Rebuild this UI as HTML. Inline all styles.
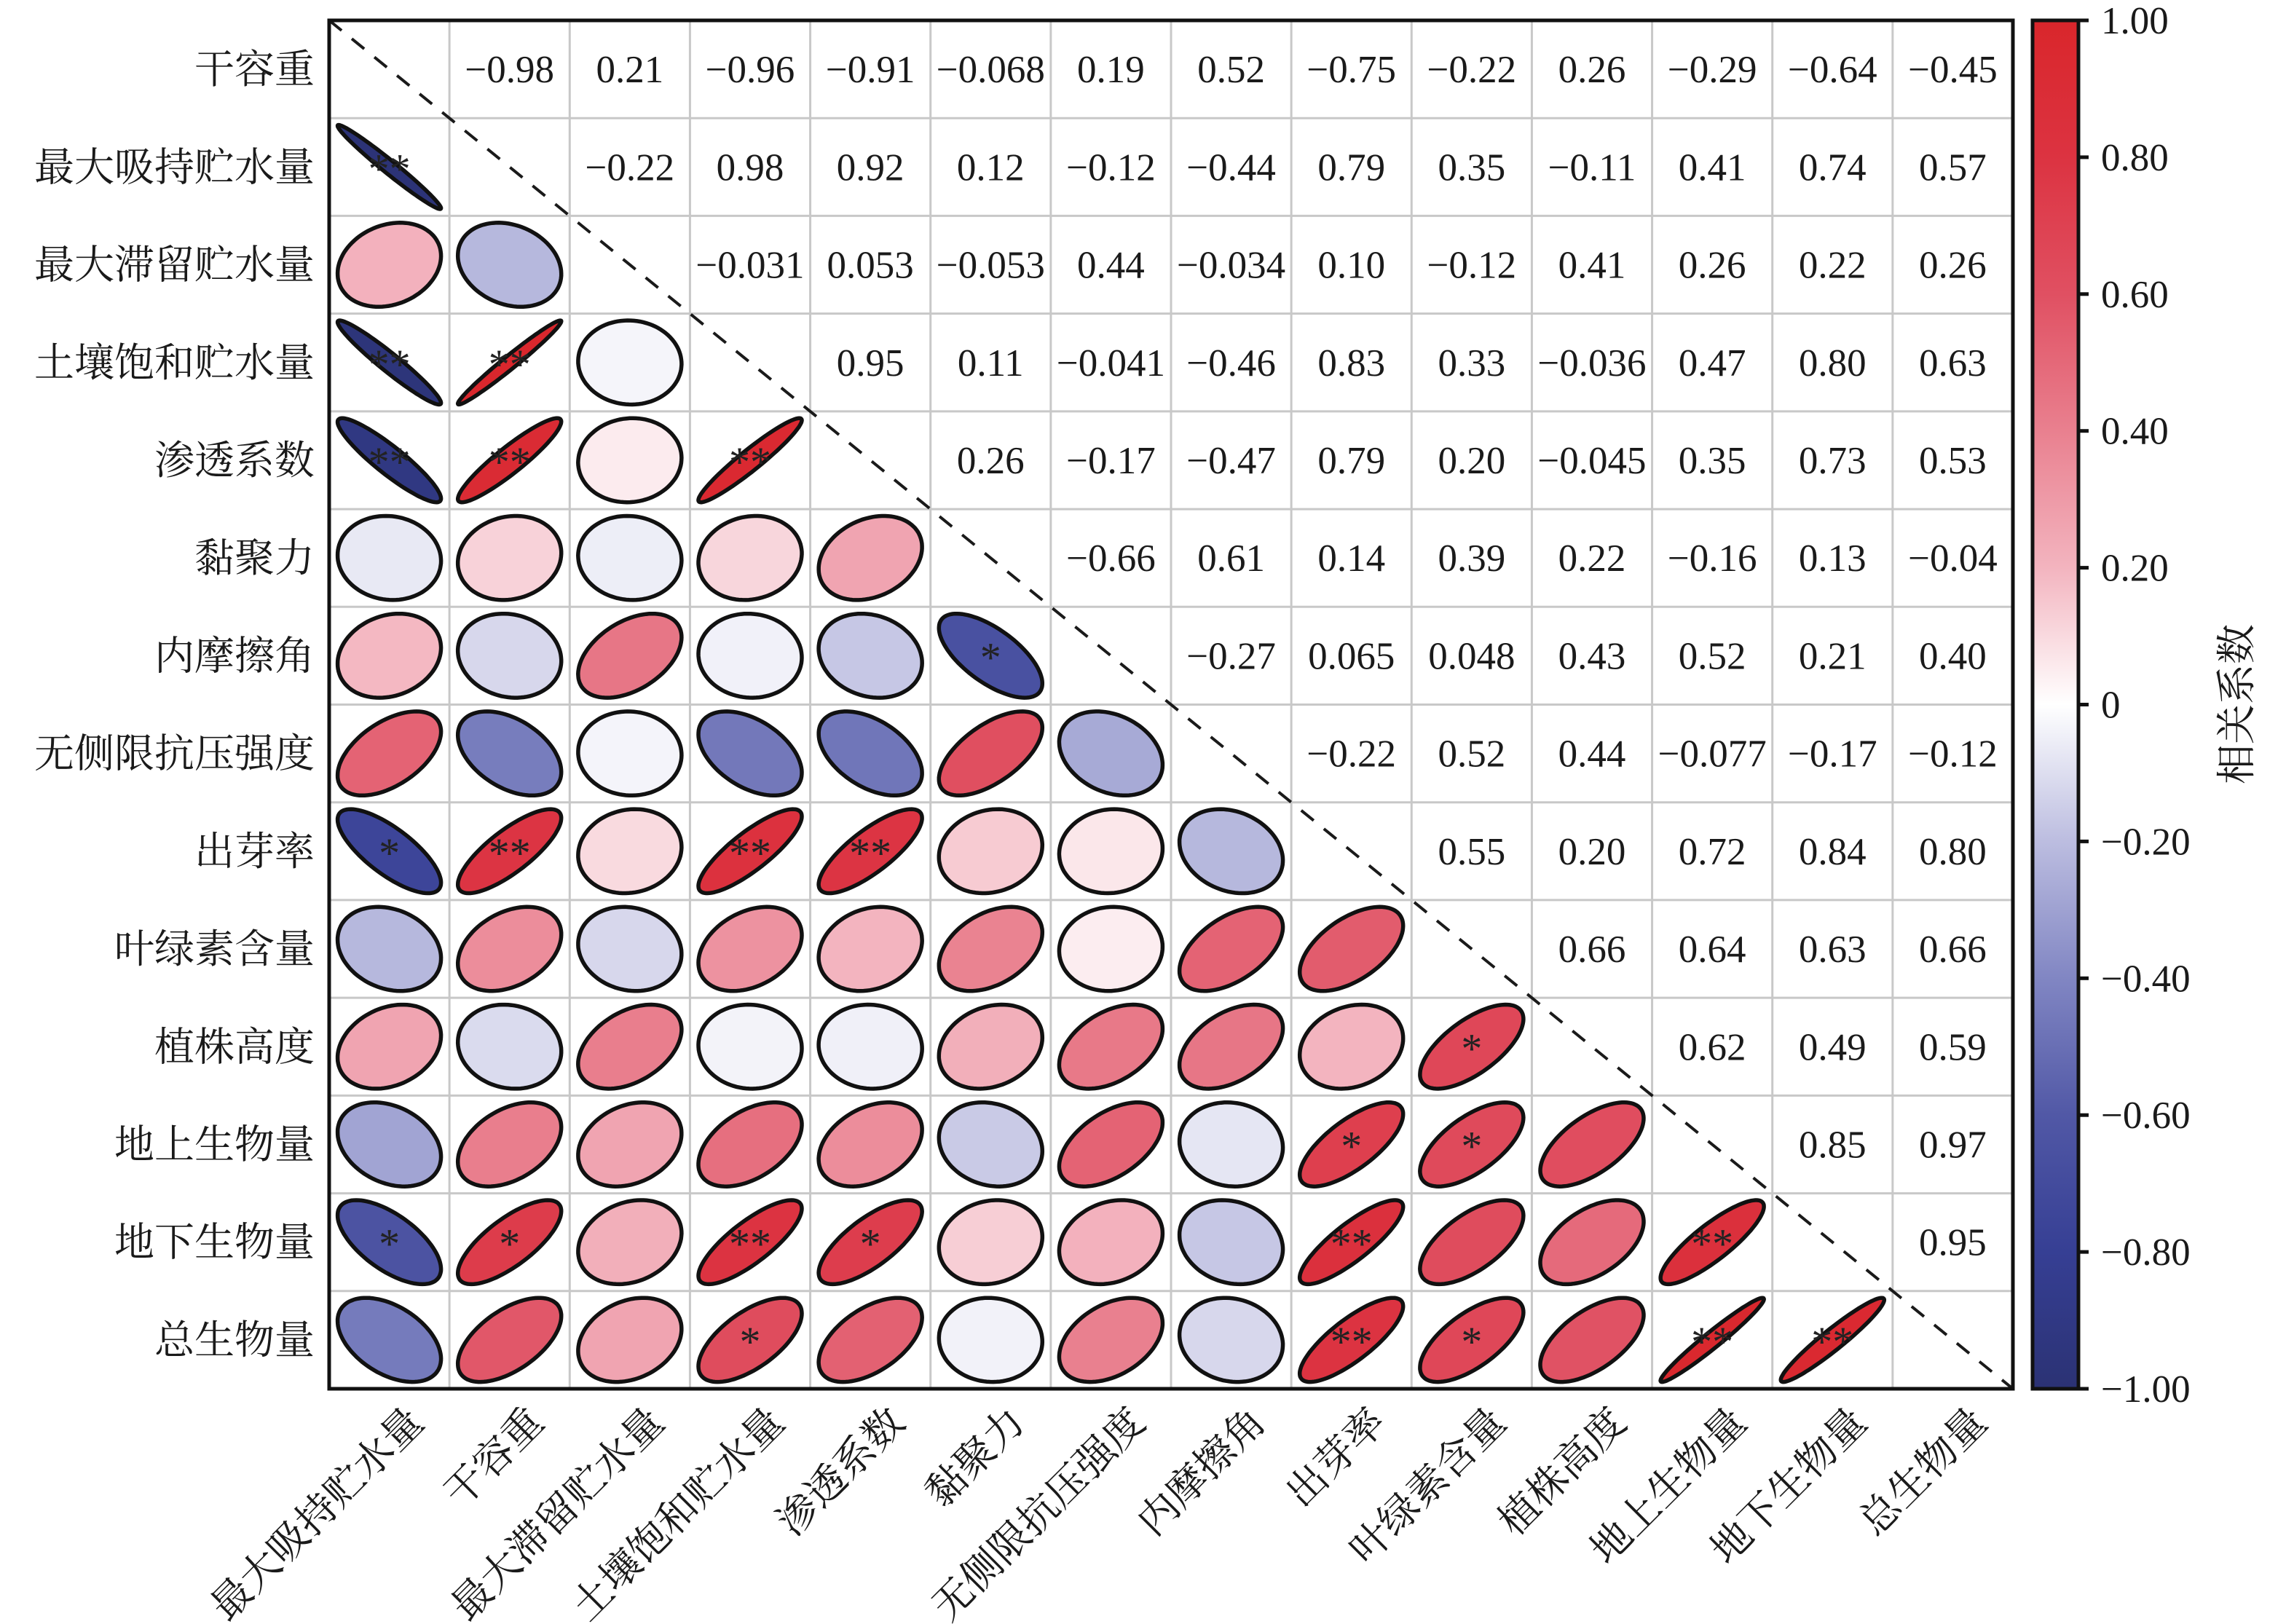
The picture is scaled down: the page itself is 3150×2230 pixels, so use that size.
<!DOCTYPE html>
<html><head><meta charset="utf-8">
<style>
html,body{margin:0;padding:0;background:#fff;}
svg{display:block;}
.num{font-family:"Liberation Serif","Noto Serif CJK SC",serif;font-size:53px;fill:#1a1a1a;}
.lab{font-family:"Liberation Serif","Noto Serif CJK SC",serif;font-size:55px;fill:#1a1a1a;}
.star{font-family:"Liberation Serif",serif;font-size:58px;fill:#222;}
</style></head>
<body>
<svg id="chart" width="3150" height="2230" viewBox="0 0 3150 2230" xmlns="http://www.w3.org/2000/svg">
<defs>
<linearGradient id="cbg" x1="0" y1="1" x2="0" y2="0">
<stop offset="0" stop-color="#2b3274"/><stop offset="0.1" stop-color="#363f94"/><stop offset="0.2" stop-color="#5158a6"/><stop offset="0.3" stop-color="#8186c3"/><stop offset="0.4" stop-color="#bcbde0"/><stop offset="0.5" stop-color="#ffffff"/><stop offset="0.6" stop-color="#f3b4bf"/><stop offset="0.7" stop-color="#e9808f"/><stop offset="0.8" stop-color="#e05062"/><stop offset="0.9" stop-color="#dc3341"/><stop offset="1" stop-color="#d9262b"/>
</linearGradient>
</defs>
<g id="grid"></g>
<g id="cells"></g>
<line x1="452" y1="28" x2="2764" y2="1907" stroke="#1a1a1a" stroke-width="4" stroke-dasharray="22,18"/>
<rect x="452" y="28" width="2312" height="1879" fill="none" stroke="#111" stroke-width="5"/>
<g id="ylabels"></g>
<g id="xlabels"></g>
<rect x="2791" y="28" width="63" height="1879" fill="url(#cbg)" stroke="#111" stroke-width="5"/>
<g id="cbticks"></g>
<text class="lab" x="0" y="0" text-anchor="middle" transform="translate(3090,967) rotate(-90)">相关系数</text>
</svg>
<script>
const rowLabels=["干容重","最大吸持贮水量","最大滞留贮水量","土壤饱和贮水量","渗透系数","黏聚力","内摩擦角","无侧限抗压强度","出芽率","叶绿素含量","植株高度","地上生物量","地下生物量","总生物量"];
const colLabels=["最大吸持贮水量","干容重","最大滞留贮水量","土壤饱和贮水量","渗透系数","黏聚力","无侧限抗压强度","内摩擦角","出芽率","叶绿素含量","植株高度","地上生物量","地下生物量","总生物量"];
const upper=[
[-0.98,0.21,-0.96,-0.91,-0.068,0.19,0.52,-0.75,-0.22,0.26,-0.29,-0.64,-0.45],
[-0.22,0.98,0.92,0.12,-0.12,-0.44,0.79,0.35,-0.11,0.41,0.74,0.57],
[-0.031,0.053,-0.053,0.44,-0.034,0.10,-0.12,0.41,0.26,0.22,0.26],
[0.95,0.11,-0.041,-0.46,0.83,0.33,-0.036,0.47,0.80,0.63],
[0.26,-0.17,-0.47,0.79,0.20,-0.045,0.35,0.73,0.53],
[-0.66,0.61,0.14,0.39,0.22,-0.16,0.13,-0.04],
[-0.27,0.065,0.048,0.43,0.52,0.21,0.40],
[-0.22,0.52,0.44,-0.077,-0.17,-0.12],
[0.55,0.20,0.72,0.84,0.80],
[0.66,0.64,0.63,0.66],
[0.62,0.49,0.59],
[0.85,0.97],
[0.95]
];
const upperText=[
["−0.98","0.21","−0.96","−0.91","−0.068","0.19","0.52","−0.75","−0.22","0.26","−0.29","−0.64","−0.45"],
["−0.22","0.98","0.92","0.12","−0.12","−0.44","0.79","0.35","−0.11","0.41","0.74","0.57"],
["−0.031","0.053","−0.053","0.44","−0.034","0.10","−0.12","0.41","0.26","0.22","0.26"],
["0.95","0.11","−0.041","−0.46","0.83","0.33","−0.036","0.47","0.80","0.63"],
["0.26","−0.17","−0.47","0.79","0.20","−0.045","0.35","0.73","0.53"],
["−0.66","0.61","0.14","0.39","0.22","−0.16","0.13","−0.04"],
["−0.27","0.065","0.048","0.43","0.52","0.21","0.40"],
["−0.22","0.52","0.44","−0.077","−0.17","−0.12"],
["0.55","0.20","0.72","0.84","0.80"],
["0.66","0.64","0.63","0.66"],
["0.62","0.49","0.59"],
["0.85","0.97"],
["0.95"]
];
const stars={"1,0":"**","3,0":"**","3,1":"**","4,0":"**","4,1":"**","4,3":"**","6,5":"*","8,0":"*","8,1":"**","8,3":"**","8,4":"**","10,9":"*","11,8":"*","11,9":"*","12,0":"*","12,1":"*","12,3":"**","12,4":"*","12,8":"**","12,11":"**","13,3":"*","13,8":"**","13,9":"*","13,11":"**","13,12":"**"};
const cbTickValues=[1,0.8,0.6,0.4,0.2,0,-0.2,-0.4,-0.6,-0.8,-1];
const cbTickLabels=["1.00","0.80","0.60","0.40","0.20","0","−0.20","−0.40","−0.60","−0.80","−1.00"];

const NS="http://www.w3.org/2000/svg";
const X0=452,Y0=28,W=2312,H=1879,N=14,CW=W/N,CH=H/N;
const cx=j=>X0+CW*(j+0.5), cy=i=>Y0+CH*(i+0.5);
const cbY=v=>Y0+(1-v)/2*H;
const stops=[[-1,[43,50,116]],[-0.8,[54,63,148]],[-0.6,[81,88,166]],[-0.4,[129,134,195]],[-0.2,[188,189,224]],[0,[255,255,255]],[0.2,[243,180,191]],[0.4,[233,128,143]],[0.6,[224,80,98]],[0.8,[220,51,65]],[1,[217,38,43]]];
function color(v){for(let k=0;k<stops.length-1;k++){const a=stops[k],b=stops[k+1];if(v<=b[0]){const t=(v-a[0])/(b[0]-a[0]);const c=a[1].map((x,q)=>Math.round(x+(b[1][q]-x)*t));return `rgb(${c})`;}}return "rgb(217,38,43)";}
function el(tag,attrs,parent){const e=document.createElementNS(NS,tag);for(const k in attrs)e.setAttribute(k,attrs[k]);parent.appendChild(e);return e;}
function r(i,j){return i<j?upper[i][j-i-1]:upper[j][i-j-1];}

const grid=document.getElementById('grid');
for(let k=1;k<N;k++){
  const lv=el('line',{x1:X0+CW*k,y1:Y0,x2:X0+CW*k,y2:Y0+H,stroke:'#c8c8c8','stroke-width':3},grid);
  
  
  const lh=el('line',{x1:X0,y1:Y0+CH*k,x2:X0+W,y2:Y0+CH*k,stroke:'#c8c8c8','stroke-width':3},grid);
  
  
}
const cells=document.getElementById('cells');
for(let i=0;i<N;i++){for(let j=0;j<N;j++){
  if(j>i){
    const t=el('text',{x:cx(j),y:cy(i)+18,'text-anchor':'middle',class:'num'},cells);
    t.textContent=upperText[i][j-i-1];
    
    
  } else if(j<i){
    const v=r(i,j);const d=Math.acos(v);let pts=[];
    for(let s=0;s<=100;s++){const a=s/100*2*Math.PI;const px=Math.cos(a+d/2),py=Math.cos(a-d/2);pts.push((cx(j)+px*CW*0.43).toFixed(1)+','+(cy(i)-py*CH*0.43).toFixed(1));}
    const p=el('polygon',{points:pts.join(' '),fill:color(v),stroke:'#111','stroke-width':5.5},cells);
    
    
    const st=stars[i+','+j];
    if(st){const s=el('text',{x:cx(j),y:cy(i)+22,'text-anchor':'middle',class:'star'},cells);s.textContent=st;
      
      }
  }
}}
const yl=document.getElementById('ylabels');
rowLabels.forEach((l,i)=>{const t=el('text',{x:432,y:cy(i)+19,'text-anchor':'end',class:'lab'},yl);t.textContent=l;
  
  });
const xl=document.getElementById('xlabels');
colLabels.forEach((l,j)=>{const x=cx(j)+50,y=1956;const t=el('text',{x:0,y:0,'text-anchor':'end',class:'lab',transform:`translate(${x},${y}) rotate(-45)`},xl);t.textContent=l;
  
  });
const cb=document.getElementById('cbticks');
cbTickValues.forEach((v,k)=>{const y=cbY(v);
  const ln=el('line',{x1:2854,y1:y,x2:2868,y2:y,stroke:'#111','stroke-width':5},cb);
  
  
  const t=el('text',{x:2885,y:y+18,class:'num'},cb);t.textContent=cbTickLabels[k];
  
  });
</script>
</body></html>
